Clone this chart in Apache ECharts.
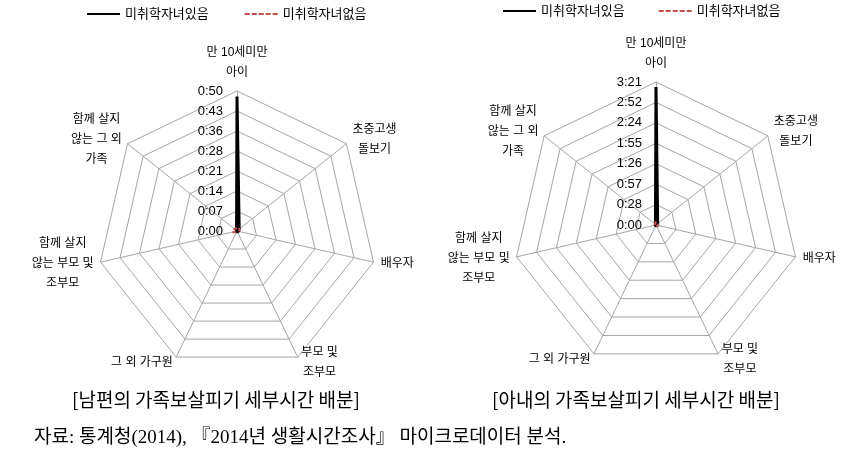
<!DOCTYPE html>
<html><head><meta charset="utf-8">
<script src="https://cdn.jsdelivr.net/npm/echarts@6/dist/echarts.min.js"></script>
<style>html,body{margin:0;padding:0;background:#fff}#c{width:846px;height:463px}</style>
</head><body><div id="c"></div>
<script>
// ---- data ----
const categories = ['만 10세미만\n아이', '초중고생\n돌보기', '배우자', '부모 및\n조부모', '그 외 가구원', '함께 살지\n않는 부모 및\n조부모', '함께 살지\n않는 그 외\n가족'];
const seriesNames = ['미취학자녀있음', '미취학자녀없음'];
// minutes
const husbandWithPreschool = [48, 1, 0.5, 0.3, 0.3, 0.2, 0.2];
const husbandWithoutPreschool = [1, 1.2, 0.8, 0.5, 0.5, 1.8, 1.2];
const wifeWithPreschool = [194, 3, 2, 1, 1, 1, 1];
const wifeWithoutPreschool = [5, 4, 3, 2, 2, 3, 2];
const husbandMax = 50;
const wifeMax = 201;
const husbandTicks = ['0:00', '0:07', '0:14', '0:21', '0:28', '0:36', '0:43', '0:50'];
const wifeTicks = ['0:00', '0:28', '0:57', '1:26', '1:55', '2:24', '2:52', '3:21'];
const captions = ['[남편의 가족보살피기 세부시간 배분]', '[아내의 가족보살피기 세부시간 배분]'];
const sourceNote = '자료: 통계청(2014), 『2014년 생활시간조사』 마이크로데이터 분석.';

// ---- build ----
const FONT = '"Liberation Sans", "Noto Sans CJK KR", sans-serif';
const NAME_SIZE = 12;
const GRID = '#a6a6a6';
const BLACK = '#000000';
const RED = '#C0504D';
// ECharts places indicators counter-clockwise; reference is clockwise
const order = [0, 6, 5, 4, 3, 2, 1];
const reorder = arr => order.map(i => arr[i]);

const mctx = document.createElement('canvas').getContext('2d');
mctx.font = NAME_SIZE + 'px ' + FONT;
const rich = {};
const richNames = categories.map((c, i) => {
  const lines = c.split('\n');
  const w = Math.ceil(Math.max(...lines.map(l => mctx.measureText(l).width))) + 1;
  rich['n' + i] = { width: w, align: 'center', lineHeight: 20, fontSize: NAME_SIZE, fontFamily: FONT, color: '#000' };
  return lines.map(l => '{n' + i + '|' + l + '}').join('\n');
});

function makeRadar(center, radius, max, ticks) {
  return {
    center: center, radius: radius, startAngle: 90, splitNumber: 7, shape: 'polygon',
    nameGap: 6.5,
    indicator: order.map((ci, k) => {
      const ind = { name: richNames[ci], min: 0, max: max };
      if (k === 0) {
        ind.nameGap = 8;
        ind.axisLabel = { show: true, margin: 14, fontSize: 13, color: '#000', fontFamily: FONT,
          formatter: (v, idx) => ticks[idx] };
      }
      return ind;
    }),
    axisName: { color: '#000', fontSize: NAME_SIZE, fontFamily: FONT, lineHeight: 20, rich: rich },
    axisLine: { lineStyle: { color: GRID, width: 1 } },
    splitLine: { lineStyle: { color: GRID, width: 1 } },
    splitArea: { show: false },
    axisTick: { show: false },
    axisLabel: { show: false }
  };
}

const dashIcon = 'path://M0,0h5v2h-5z M7,0h5v2h-5z M14,0h5v2h-5z M21,0h5v2h-5z M28,0h5v2h-5z';
function makeLegend(left, top, gap) {
  return {
    left: left, top: top, padding: 0, itemWidth: 33, itemHeight: 2, itemGap: gap,
    textStyle: { fontSize: 13, color: '#000', fontFamily: FONT },
    data: [
      { name: seriesNames[0], icon: 'rect', itemStyle: { color: BLACK, borderWidth: 0 } },
      { name: seriesNames[1], icon: dashIcon, itemStyle: { color: RED, borderWidth: 0 } }
    ]
  };
}

function makeSeries(radarIndex, withP, withoutP) {
  return {
    type: 'radar', radarIndex: radarIndex, symbol: 'none',
    data: [
      { name: seriesNames[0], value: reorder(withP), lineStyle: { color: BLACK, width: 3 }, itemStyle: { color: BLACK } },
      { name: seriesNames[1], value: reorder(withoutP), lineStyle: { color: RED, width: 2, type: [4, 3] }, itemStyle: { color: RED } }
    ]
  };
}

const CAP_STYLE = { fontSize: 19, fontWeight: 'normal', color: '#000', fontFamily: '"Noto Sans CJK KR", sans-serif' };
const chart = echarts.init(document.getElementById('c'), null, { renderer: 'canvas' });
chart.setOption({
  animation: false,
  backgroundColor: '#fff',
  title: [
    { text: captions[0], left: 72, top: 390, padding: 0, textStyle: CAP_STYLE },
    { text: captions[1], left: 492, top: 390, padding: 0, textStyle: CAP_STYLE },
    { text: sourceNote, left: 34, top: 429, padding: 0, textStyle: { fontSize: 19, fontWeight: 'normal', color: '#000', fontFamily: '"Liberation Serif", "Noto Sans CJK KR", serif' } }
  ],
  legend: [makeLegend(87, 7.5, 36), makeLegend(503, 4.5, 34)],
  radar: [
    makeRadar([237, 231], 140, husbandMax, husbandTicks),
    makeRadar([656, 225], 143, wifeMax, wifeTicks)
  ],
  series: [
    makeSeries(0, husbandWithPreschool, husbandWithoutPreschool),
    makeSeries(1, wifeWithPreschool, wifeWithoutPreschool)
  ]
});
</script>
</body></html>
